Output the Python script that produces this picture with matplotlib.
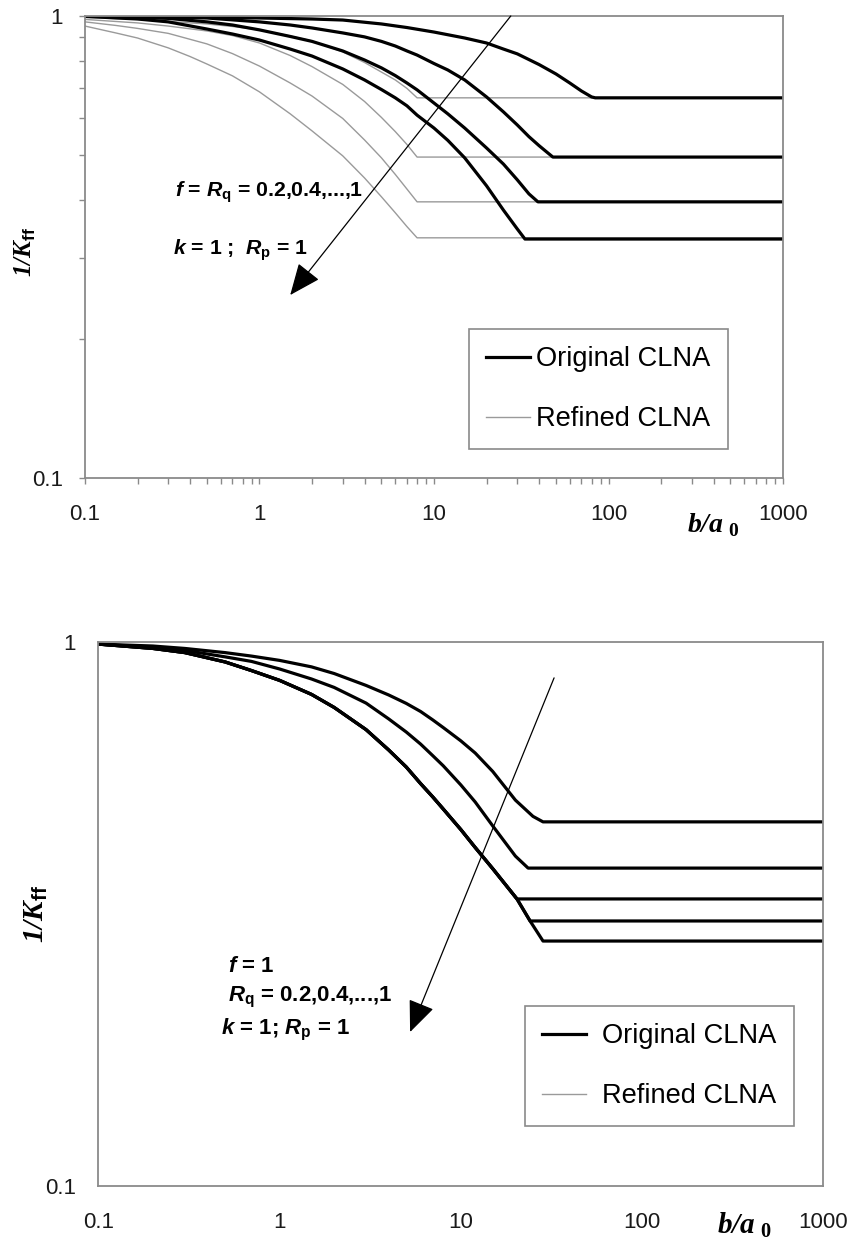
import matplotlib
matplotlib.use("Agg")
import matplotlib.pyplot as plt
from matplotlib.lines import Line2D
from matplotlib.ticker import FixedLocator, FixedFormatter, LogLocator, NullFormatter

plt.rcParams['font.family'] = ['Liberation Sans', 'DejaVu Sans']
plt.rcParams['mathtext.fontset'] = 'custom'
plt.rcParams['mathtext.rm'] = 'Liberation Sans:bold'
plt.rcParams['mathtext.it'] = 'Liberation Sans:italic:bold'
plt.rcParams['mathtext.bf'] = 'Liberation Sans:bold'
plt.rcParams['mathtext.sf'] = 'Liberation Serif:italic:bold'
plt.rcParams['mathtext.tt'] = 'Liberation Serif:bold'

# ---- data ----
# top panel (f = Rq), original CLNA, thick lines
top_orig_x = [
    [0.1, 0.3, 1, 2, 3, 5, 7, 10, 15, 20, 25, 30, 40, 50, 60, 70, 80, 84, 1000],
    [0.1, 0.3, 0.5, 1, 1.5, 2, 3, 4, 5, 6, 7, 8, 10, 12, 15, 20, 25, 30, 35, 40, 45, 48, 1000],
    [0.1, 0.3, 0.5, 0.7, 1, 1.5, 2, 3, 4, 5, 6, 7, 8, 10, 12, 15, 20, 25, 30, 35, 39.4, 1000],
    [0.1, 0.2, 0.3, 0.5, 0.7, 1, 1.5, 2, 3, 4, 5, 6, 7, 8, 10, 12, 15, 20, 25, 30, 33.2, 1000],
]
top_orig_y = [
    [1.0, 0.998, 0.990, 0.985, 0.980, 0.961, 0.944, 0.923, 0.896, 0.874, 0.848, 0.828,
     0.785, 0.749, 0.716, 0.688, 0.668, 0.665, 0.665],
    [1.0, 0.995, 0.990, 0.971, 0.956, 0.942, 0.919, 0.901, 0.881, 0.861, 0.840, 0.823,
     0.789, 0.764, 0.727, 0.668, 0.620, 0.581, 0.548, 0.524, 0.505, 0.495, 0.495],
    [1.0, 0.988, 0.971, 0.956, 0.933, 0.903, 0.881, 0.840, 0.803, 0.772, 0.743, 0.716,
     0.692, 0.648, 0.614, 0.572, 0.518, 0.478, 0.442, 0.412, 0.396, 0.396],
    [0.998, 0.985, 0.971, 0.937, 0.914, 0.887, 0.848, 0.819, 0.768, 0.727, 0.693, 0.665,
     0.639, 0.610, 0.572, 0.538, 0.493, 0.429, 0.380, 0.346, 0.329, 0.329],
]
# top panel, refined CLNA, thin grey lines
top_ref_x = [
    [0.1, 0.2, 0.3, 0.5, 0.7, 1, 1.5, 2, 3, 4, 5, 6, 7, 8, 1000],
    [0.1, 0.15, 0.2, 0.3, 0.5, 0.7, 1, 1.5, 2, 3, 4, 5, 6, 7, 8, 1000],
    [0.1, 0.15, 0.2, 0.3, 0.5, 0.7, 1, 1.5, 2, 3, 4, 5, 6, 7, 8, 1000],
    [0.1, 0.15, 0.2, 0.3, 0.4, 0.5, 0.7, 1, 1.5, 2, 3, 4, 5, 6, 7, 8, 1000],
]
top_ref_y = [
    [0.993, 0.983, 0.973, 0.961, 0.949, 0.933, 0.905, 0.883, 0.836, 0.793, 0.756, 0.727,
     0.697, 0.665, 0.665],
    [0.983, 0.973, 0.966, 0.951, 0.928, 0.907, 0.874, 0.821, 0.777, 0.711, 0.653, 0.603,
     0.562, 0.527, 0.495, 0.495],
    [0.971, 0.954, 0.940, 0.917, 0.870, 0.829, 0.779, 0.716, 0.671, 0.600, 0.539, 0.493,
     0.454, 0.422, 0.396, 0.396],
    [0.951, 0.919, 0.896, 0.853, 0.817, 0.787, 0.742, 0.685, 0.614, 0.564, 0.498, 0.446,
     0.406, 0.375, 0.350, 0.331, 0.331],
]

# bottom panel (f = 1, Rq = 0.2 ... 1), two upper curves
bot_x = [
    [0.1, 0.2, 0.3, 0.5, 0.7, 1, 1.5, 2, 3, 4, 5, 6, 7, 8, 10, 12, 15, 20, 25, 28.4, 1000],
    [0.1, 0.2, 0.3, 0.5, 0.7, 1, 1.5, 2, 3, 4, 5, 6, 7, 8, 10, 12, 15, 20, 23.5, 1000],
]
bot_y = [
    [0.991, 0.983, 0.973, 0.956, 0.942, 0.925, 0.900, 0.875, 0.832, 0.799, 0.771, 0.745,
     0.719, 0.696, 0.658, 0.625, 0.578, 0.512, 0.478, 0.467, 0.467],
    [0.991, 0.977, 0.965, 0.939, 0.921, 0.892, 0.855, 0.825, 0.772, 0.722, 0.683, 0.649,
     0.618, 0.592, 0.546, 0.508, 0.459, 0.404, 0.384, 0.384],
]
# the three lowest curves share one branch, then leave it one by one
bot_common_x = [0.1, 0.2, 0.3, 0.5, 0.7, 1, 1.5, 2, 3, 4, 5, 6, 7, 8, 10, 12, 15, 20.4]
bot_common_y = [0.991, 0.973, 0.956, 0.919, 0.886, 0.850, 0.801, 0.758, 0.690, 0.633,
                0.589, 0.549, 0.519, 0.493, 0.452, 0.419, 0.383, 0.337]
bot_tail_x = [[], [24.1], [24.1, 28.4]]
bot_tail_y = [[], [0.307], [0.307, 0.282]]

x_ticks = [0.1, 1, 10, 100, 1000]
x_labels = ['0.1', '1', '10', '100', '1000']
y_ticks = [0.1, 1]
y_labels = ['0.1', '1']

AXIS_GRAY = '#8a8a8a'
REF_GRAY = '#9a9a9a'

fig = plt.figure(figsize=(8.55, 12.48), dpi=100)
ax1 = fig.add_axes([0.0994, 0.6170, 0.8164, 0.3702])
ax2 = fig.add_axes([0.115, 0.0497, 0.848, 0.4359])


def setup_axes(ax, ticklen):
    ax.set_xscale('log')
    ax.set_yscale('log')
    ax.set_xlim(0.1, 1000)
    ax.set_ylim(0.1, 1)
    ax.xaxis.set_major_locator(FixedLocator(x_ticks))
    ax.xaxis.set_major_formatter(FixedFormatter(x_labels))
    ax.yaxis.set_major_locator(FixedLocator(y_ticks))
    ax.yaxis.set_major_formatter(FixedFormatter(y_labels))
    ax.xaxis.set_minor_locator(LogLocator(base=10, subs=range(2, 10)))
    ax.yaxis.set_minor_locator(LogLocator(base=10, subs=range(2, 10)))
    ax.xaxis.set_minor_formatter(NullFormatter())
    ax.yaxis.set_minor_formatter(NullFormatter())
    for s in ax.spines.values():
        s.set_color(AXIS_GRAY)
        s.set_linewidth(1.3)
    ax.tick_params(which='both', direction='out', length=ticklen, width=1,
                   color=AXIS_GRAY, labelsize=16, labelcolor='#1a1a1a',
                   top=False, right=False)
    ax.tick_params(axis='x', which='major', pad=19 - ticklen)
    ax.tick_params(axis='y', which='major', pad=16 - ticklen)


def legend(ax, anchor, textpad):
    handles = [Line2D([], [], color='black', lw=2.3), Line2D([], [], color=REF_GRAY, lw=1.0)]
    leg = ax.legend(handles, ['Original CLNA', 'Refined CLNA'], loc='upper left',
                    bbox_to_anchor=anchor, borderaxespad=0, fontsize=19.6,
                    frameon=True, fancybox=False, edgecolor=AXIS_GRAY, framealpha=1,
                    handlelength=1.6, handletextpad=textpad, labelspacing=1.25,
                    borderpad=0.63)
    leg.get_frame().set_linewidth(1.2)


arrow_style = dict(arrowstyle='-|>,head_length=0.9,head_width=0.38', mutation_scale=22,
                   color='black', lw=0.9, shrinkA=0, shrinkB=0)

# ---- top panel ----
setup_axes(ax1, 4)
for xs, ys in zip(top_ref_x, top_ref_y):
    ax1.plot(xs, ys, color=REF_GRAY, lw=1.0, solid_joinstyle='round')
for xs, ys in zip(top_orig_x, top_orig_y):
    ax1.plot(xs, ys, color='black', lw=2.3, solid_joinstyle='round')

ax1.annotate('', xy=(0.294, 0.396), xytext=(0.610, 1.0), xycoords='axes fraction',
             arrowprops=arrow_style)
ax1.text(0.129, 0.619, r'$f$ = $R_\mathrm{q}$ = 0.2,0.4,...,1', transform=ax1.transAxes,
         fontsize=15.3, fontweight='bold', va='center', ha='left')
ax1.text(0.126, 0.4935, r'$k$ = 1 ;  $R_\mathrm{p}$ = 1', transform=ax1.transAxes,
         fontsize=15.3, fontweight='bold', va='center', ha='left')

ax1.set_ylabel(r'$\mathsf{1/K}_{\mathrm{ff}}$', fontsize=18)
ax1.yaxis.set_label_coords(-0.067, 0.49)
ax1.text(0.862, -0.102, r'$\mathsf{b/a}_{\ \mathtt{0}}$', transform=ax1.transAxes,
         fontsize=20, va='center', ha='left')
legend(ax1, (0.550, 0.3225), 0.25)

# ---- bottom panel ----
setup_axes(ax2, 0)
for i in range(len(bot_tail_x)):
    xs = bot_common_x + bot_tail_x[i] + [1000]
    ys = bot_common_y + bot_tail_y[i]
    ys = ys + [ys[-1]]
    ax2.plot(xs, ys, color='black', lw=2.3, solid_joinstyle='round')
for xs, ys in zip(bot_x, bot_y):
    ax2.plot(xs, ys, color='black', lw=2.3, solid_joinstyle='round')

ax2.annotate('', xy=(0.430, 0.283), xytext=(0.6286, 0.934), xycoords='axes fraction',
             arrowprops=arrow_style)
ax2.text(0.179, 0.4026, r'$f$ = 1', transform=ax2.transAxes,
         fontsize=16, fontweight='bold', va='center', ha='left')
ax2.text(0.179, 0.347, r'$R_\mathrm{q}$ = 0.2,0.4,...,1', transform=ax2.transAxes,
         fontsize=16, fontweight='bold', va='center', ha='left')
ax2.text(0.169, 0.287, r'$k$ = 1; $R_\mathrm{p}$ = 1', transform=ax2.transAxes,
         fontsize=16, fontweight='bold', va='center', ha='left')

ax2.set_ylabel(r'$\mathsf{1/K}_{\mathrm{ff}}$', fontsize=21)
ax2.yaxis.set_label_coords(-0.0666, 0.5)
ax2.text(0.853, -0.072, r'$\mathsf{b/a}_{\ \mathtt{0}}$', transform=ax2.transAxes,
         fontsize=21, va='center', ha='left')
legend(ax2, (0.5886, 0.331), 0.6)

fig.savefig('out.png', dpi=100)
